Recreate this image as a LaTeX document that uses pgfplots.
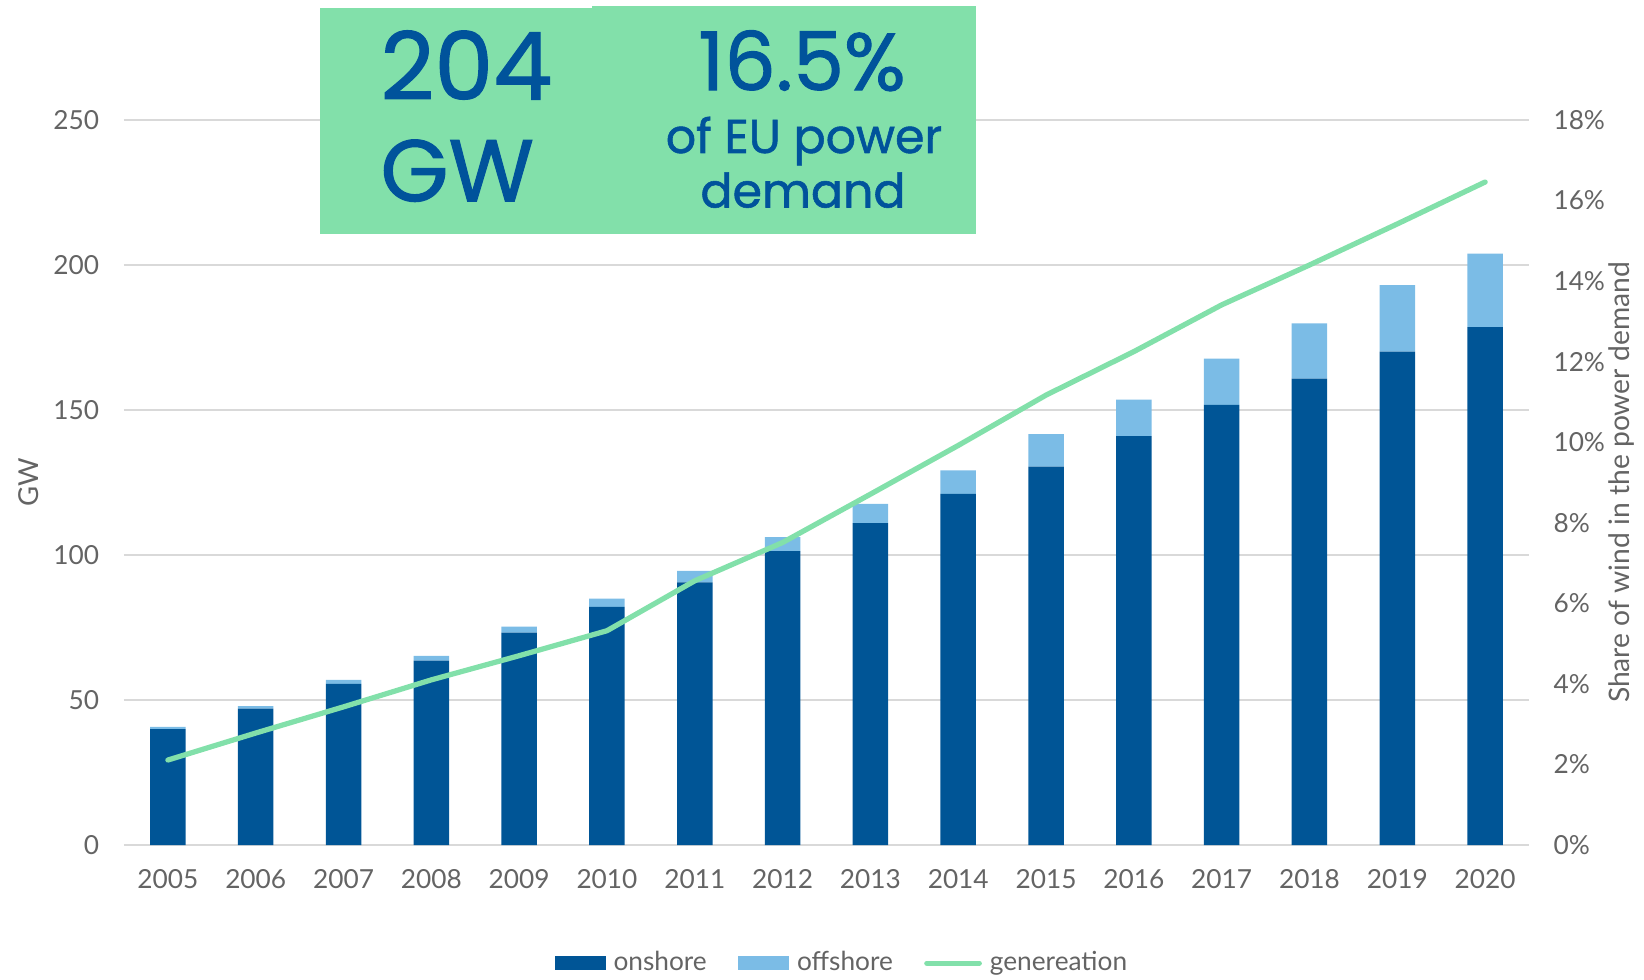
\documentclass[border=0pt]{standalone}
\usepackage{fontspec}
\setmainfont{Lato}
\newfontfamily\boxfont[FakeBold=1.2]{Poppins}
\usepackage{pgfplots}
\pgfplotsset{compat=1.18}
\definecolor{onshore}{RGB}{0,85,150}
\definecolor{offshore}{RGB}{123,188,230}
\definecolor{gen}{RGB}{130,224,170}
\definecolor{txt}{RGB}{100,100,100}
\definecolor{navy}{RGB}{0,83,155}
\definecolor{gridc}{RGB}{217,217,217}
\begin{document}
\begin{tikzpicture}
\path[use as bounding box] (-49.6pt,-53.6pt) rectangle (608pt,338pt);
\begin{axis}[
  at={(0pt,0pt)}, anchor=south west,
  width=562pt, height=290pt, scale only axis,
  xmin=-0.5, xmax=15.5, ymin=0, ymax=250,
  ybar stacked, bar width=14.2pt,
  xtick={0,...,15},
  xticklabels={2005,2006,2007,2008,2009,2010,2011,2012,2013,2014,2015,2016,2017,2018,2019,2020},
  ytick={0,50,100,150,200,250}, yticklabels={0,50,100,150,200,250},
  ymajorgrids, grid style={gridc, line width=1pt},
  axis x line*=bottom, axis y line*=left,
  x axis line style={gridc, line width=1pt, -},
  y axis line style={draw=none},
  major tick length=0pt,
  tick label style={font=\fontsize{10.5}{12}\selectfont, text=txt},
  xticklabel style={anchor=north, inner sep=0pt, yshift=-9.6pt},
  yticklabel style={anchor=east, inner sep=0pt, xshift=-9.8pt},
  ylabel={GW},
  every axis y label/.style={at={(axis description cs:-0.068,0.5)}, rotate=90, anchor=center, font=\fontsize{11}{13}\selectfont, text=txt},
]
\addplot[fill=onshore, draw=none] coordinates {
(0,40.0) (1,47.0) (2,55.6) (3,63.6) (4,73.2) (5,82.1) (6,90.6) (7,101.3)
(8,111.0) (9,121.1) (10,130.5) (11,141.0) (12,151.8) (13,160.8) (14,170.1) (15,178.6)};
\addplot[fill=offshore, draw=none] coordinates {
(0,0.7) (1,0.9) (2,1.3) (3,1.6) (4,2.1) (5,2.9) (6,3.9) (7,4.9)
(8,6.6) (9,8.1) (10,11.2) (11,12.6) (12,15.9) (13,19.1) (14,23.0) (15,25.3)};
\end{axis}
\begin{axis}[
  at={(0pt,0pt)}, anchor=south west,
  width=562pt, height=290pt, scale only axis,
  xmin=-0.5, xmax=15.5, ymin=0, ymax=18,
  axis x line=none, axis y line*=right,
  y axis line style={draw=none},
  ytick={0,2,4,6,8,10,12,14,16,18},
  yticklabels={0\%,2\%,4\%,6\%,8\%,10\%,12\%,14\%,16\%,18\%},
  major tick length=0pt,
  tick label style={font=\fontsize{10.5}{12}\selectfont, text=txt},
  yticklabel style={anchor=west, inner sep=0pt, xshift=9.6pt},
  ylabel={Share of wind in the power demand},
  every axis y label/.style={at={(axis description cs:1.066,0.5)}, rotate=90, anchor=center, font=\fontsize{11.3}{13}\selectfont, text=txt},
  legend columns=3,
  legend style={at={(axis description cs:0.512,-0.163)}, anchor=center, draw=none, fill=none,
    font=\fontsize{10.5}{12}\selectfont, text=txt,
    /tikz/every odd column/.append style={column sep=1.2pt},
    /tikz/every even column/.append style={column sep=10.5pt}},
]
\addlegendimage{legend image code/.code={\fill[onshore] (0pt,-2.6pt) rectangle (20pt,2.6pt);}}
\addlegendentry{onshore}
\addlegendimage{legend image code/.code={\fill[offshore] (0pt,-2.6pt) rectangle (20pt,2.6pt);}}
\addlegendentry{offshore}
\addplot[gen, line width=2.1pt, line cap=round, line join=round, mark=none,
  legend image code/.code={\draw[gen, line width=2.1pt, line cap=round] (0pt,0pt) -- (21pt,0pt);}] coordinates {
(0,2.11) (1,2.78) (2,3.43) (3,4.10) (4,4.70) (5,5.32) (6,6.56) (7,7.51)
(8,8.71) (9,9.92) (10,11.17) (11,12.25) (12,13.41) (13,14.40) (14,15.42) (15,16.46)};
\addlegendentry{genereation}
\end{axis}
\fill[gen] (78.4pt,244.5pt) rectangle (187.2pt,334.6pt);
\fill[gen] (187.2pt,244.5pt) rectangle (340.8pt,335.5pt);
\node[anchor=base west, inner sep=0pt, text=navy, font=\boxfont\fontsize{37.5}{40}\selectfont] at (102.4pt,298.2pt) {204};
\node[anchor=base west, inner sep=0pt, text=navy, font=\boxfont\fontsize{35}{40}\selectfont] at (102.4pt,257.5pt) {GW};
\node[anchor=base, inner sep=0pt, text=navy, font=\boxfont\fontsize{32.5}{35}\selectfont] at (271.2pt,301.9pt) {16.5\%};
\node[anchor=base, inner sep=0pt, text=navy, font=\boxfont\fontsize{19}{20}\selectfont] at (272pt,276.8pt) {of EU power};
\node[anchor=base, inner sep=0pt, text=navy, font=\boxfont\fontsize{19}{20}\selectfont] at (271.6pt,255pt) {demand};
\end{tikzpicture}
\end{document}
